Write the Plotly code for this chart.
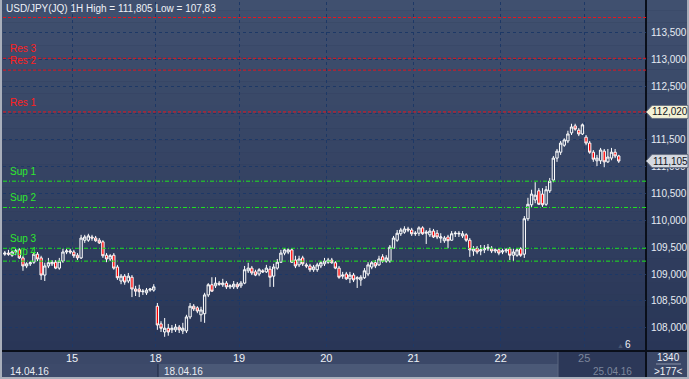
import plotly.graph_objects as go

# ---------------- data (USD/JPY 1H, 14.04.16 - 25.04.16) ----------------
open_ = [
    109.37, 109.39, 109.35, 109.41, 109.45, 109.30, 109.15, 109.19, 109.22, 109.37,
    109.30, 108.98, 109.15, 109.19, 109.22, 109.11, 109.24, 109.41, 109.43, 109.41,
    109.35, 109.30, 109.63, 109.63, 109.69, 109.67, 109.63, 109.60, 109.35, 109.28,
    109.35, 109.13, 108.87, 108.96, 108.87, 108.94, 108.72, 108.72, 108.67, 108.65,
    108.70, 108.70, 108.40, 108.07, 107.92, 107.99, 107.96, 107.96, 108.01, 107.94,
    107.94, 108.20, 108.40, 108.37, 108.24, 108.26, 108.61, 108.80, 108.78, 108.83,
    108.80, 108.83, 108.76, 108.76, 108.81, 108.78, 108.83, 109.06, 109.11, 109.04,
    109.00, 109.06, 109.04, 109.09, 108.96, 109.11, 109.22, 109.39, 109.41, 109.45,
    109.26, 109.17, 109.30, 109.17, 109.15, 109.08, 109.08, 109.15, 109.19, 109.22,
    109.26, 109.21, 109.11, 108.96, 109.00, 108.91, 108.98, 108.91, 108.89, 108.93,
    109.00, 109.13, 109.21, 109.17, 109.32, 109.24, 109.24, 109.48, 109.63, 109.75,
    109.78, 109.84, 109.82, 109.75, 109.76, 109.86, 109.76, 109.73, 109.80, 109.76,
    109.67, 109.62, 109.69, 109.63, 109.75, 109.76, 109.71, 109.73, 109.63, 109.43,
    109.48, 109.43, 109.45, 109.47, 109.48, 109.43, 109.45, 109.41, 109.43, 109.47,
    109.35, 109.35, 109.47, 109.37, 110.03, 110.29, 110.38, 110.55, 110.49, 110.30,
    110.55, 110.75, 111.16, 111.27, 111.40, 111.48, 111.63, 111.76, 111.68, 111.61,
    111.55, 111.44, 111.27, 111.11, 111.11, 111.29, 111.09, 111.16, 111.27, 111.20,
]
high = [
    109.43, 109.45, 109.43, 109.47, 109.48, 109.34, 109.22, 109.24, 109.41, 109.41,
    109.34, 109.21, 109.30, 109.26, 109.26, 109.30, 109.47, 109.47, 109.47, 109.45,
    109.39, 109.73, 109.73, 109.75, 109.73, 109.71, 109.67, 109.63, 109.39, 109.37,
    109.39, 109.17, 109.00, 109.00, 109.02, 108.98, 108.78, 108.80, 108.72, 108.74,
    108.74, 108.81, 108.46, 108.12, 108.18, 108.07, 108.05, 108.07, 108.05, 108.09,
    108.24, 108.46, 108.44, 108.40, 108.39, 108.65, 108.83, 108.94, 108.94, 108.87,
    108.91, 108.87, 108.81, 108.87, 108.85, 108.87, 109.15, 109.21, 109.15, 109.08,
    109.11, 109.09, 109.17, 109.15, 109.19, 109.28, 109.45, 109.48, 109.48, 109.48,
    109.34, 109.34, 109.34, 109.21, 109.19, 109.17, 109.21, 109.24, 109.30, 109.30,
    109.30, 109.24, 109.15, 109.04, 109.04, 109.04, 109.02, 108.96, 108.98, 109.11,
    109.22, 109.24, 109.26, 109.34, 109.37, 109.35, 109.54, 109.71, 109.82, 109.86,
    109.89, 109.88, 109.86, 109.80, 109.89, 109.89, 109.82, 109.86, 109.84, 109.82,
    109.76, 109.71, 109.73, 109.80, 109.80, 109.80, 109.80, 109.76, 109.67, 109.52,
    109.52, 109.54, 109.54, 109.56, 109.52, 109.48, 109.48, 109.47, 109.48, 109.50,
    109.47, 109.48, 109.50, 110.08, 110.42, 110.57, 110.71, 110.60, 110.60, 110.64,
    110.79, 111.20, 111.33, 111.48, 111.53, 111.67, 111.80, 111.80, 111.72, 111.805,
    111.59, 111.48, 111.31, 111.22, 111.35, 111.33, 111.33, 111.35, 111.33, 111.22,
]
low = [
    109.34, 109.34, 109.32, 109.35, 109.28, 109.06, 109.11, 109.15, 109.19, 109.24,
    108.89, 108.87, 109.11, 109.15, 109.09, 109.08, 109.21, 109.37, 109.37, 109.30,
    109.26, 109.28, 109.58, 109.60, 109.62, 109.60, 109.56, 109.30, 109.22, 109.24,
    109.08, 108.89, 108.81, 108.80, 108.83, 108.57, 108.59, 108.57, 108.61, 108.61,
    108.67, 108.67, 107.96, 107.92, 107.83, 107.85, 107.90, 107.92, 107.90, 107.88,
    107.90, 108.16, 108.31, 108.27, 108.11, 108.09, 108.57, 108.67, 108.74, 108.78,
    108.76, 108.72, 108.72, 108.72, 108.72, 108.74, 108.81, 109.02, 108.98, 108.96,
    108.96, 109.02, 109.02, 108.76, 108.76, 109.08, 109.21, 109.35, 109.37, 109.21,
    109.11, 109.13, 109.15, 109.11, 109.04, 109.04, 109.04, 109.11, 109.15, 109.19,
    109.19, 109.09, 108.91, 108.91, 108.89, 108.83, 108.85, 108.74, 108.78, 108.91,
    108.96, 109.09, 109.11, 109.15, 109.21, 109.21, 109.21, 109.47, 109.60, 109.71,
    109.75, 109.78, 109.71, 109.71, 109.71, 109.73, 109.56, 109.69, 109.67, 109.65,
    109.58, 109.58, 109.48, 109.62, 109.69, 109.69, 109.67, 109.60, 109.32, 109.34,
    109.37, 109.35, 109.39, 109.43, 109.39, 109.39, 109.35, 109.37, 109.39, 109.26,
    109.24, 109.32, 109.32, 109.30, 109.99, 110.25, 110.32, 110.29, 110.25, 110.27,
    110.51, 110.71, 111.09, 111.22, 111.37, 111.44, 111.59, 111.67, 111.57, 111.59,
    111.40, 111.24, 111.09, 111.01, 111.05, 110.99, 111.07, 111.12, 111.16, 111.07,
]
close = [
    109.39, 109.37, 109.41, 109.43, 109.30, 109.15, 109.19, 109.21, 109.37, 109.28,
    108.98, 109.15, 109.21, 109.22, 109.11, 109.24, 109.41, 109.43, 109.41, 109.34,
    109.30, 109.67, 109.69, 109.71, 109.67, 109.62, 109.58, 109.34, 109.28, 109.34,
    109.11, 108.93, 108.96, 108.85, 108.96, 108.72, 108.68, 108.67, 108.68, 108.70,
    108.72, 108.76, 108.05, 107.99, 107.99, 107.92, 107.99, 108.01, 107.96, 107.99,
    108.20, 108.40, 108.35, 108.31, 108.33, 108.61, 108.80, 108.68, 108.83, 108.81,
    108.83, 108.76, 108.78, 108.81, 108.76, 108.83, 109.08, 109.11, 109.02, 108.98,
    109.08, 109.04, 109.11, 108.94, 109.13, 109.22, 109.39, 109.45, 109.45, 109.22,
    109.15, 109.28, 109.19, 109.15, 109.08, 109.13, 109.17, 109.21, 109.24, 109.26,
    109.21, 109.11, 108.94, 108.98, 108.91, 108.98, 108.89, 108.93, 108.94, 109.06,
    109.17, 109.21, 109.15, 109.28, 109.24, 109.30, 109.50, 109.67, 109.76, 109.82,
    109.84, 109.82, 109.75, 109.76, 109.86, 109.75, 109.78, 109.80, 109.69, 109.69,
    109.69, 109.67, 109.62, 109.75, 109.76, 109.75, 109.75, 109.63, 109.45, 109.47,
    109.41, 109.45, 109.48, 109.50, 109.43, 109.45, 109.39, 109.43, 109.45, 109.35,
    109.41, 109.45, 109.35, 110.03, 110.30, 110.49, 110.47, 110.30, 110.29, 110.57,
    110.73, 111.16, 111.29, 111.44, 111.50, 111.61, 111.74, 111.70, 111.61, 111.78,
    111.44, 111.27, 111.14, 111.16, 111.31, 111.09, 111.18, 111.27, 111.20, 111.105,
]

day_labels = ["15", "18", "19", "20", "21", "22", "25"]
day_start = [19, 42, 65, 89, 113, 137, 160]          # first bar index of each day
date_labels = ["14.04.16", "18.04.16", "25.04.16"]
date_label_bar = [0, 42, 160]

res_names = ["Res 1", "Res 2", "Res 3"]
res_levels = [112.02, 112.80, 113.02]
extra_res_level = 113.78
sup_names = ["Sup 1", "Sup 2", "Sup 3", "Sup 4"]
sup_levels = [110.73, 110.24, 109.48, 109.24]

high_value = 111.805
low_value = 107.83
last_price = 111.105
y_ticks = [108.0, 108.5, 109.0, 109.5, 110.0, 110.5, 111.0, 111.5, 112.0, 112.5, 113.0, 113.5]
visible_bars = 177
total_bars = 1340

# ---------------- figure ----------------
W, H = 689, 379
ML, MR, MT, MB = 3, 43, 2, 29
PW = W - ML - MR
PH = H - MT - MB
Y0, Y1 = 107.584, 114.069
FS = 10


def px2paper_x(px):
    return (px - ML) / PW


def px2paper_y(py):
    return (H - MB - py) / PH


def fmt(v):
    return f"{v:.3f}".replace(".", ",")


idx = list(range(len(close)))

fig = go.Figure()
fig.add_trace(go.Candlestick(
    x=idx, open=open_, high=high, low=low, close=close,
    increasing=dict(line=dict(color="#ffffff", width=1), fillcolor="rgba(0,0,0,0)"),
    decreasing=dict(line=dict(color="#ffffff", width=1), fillcolor="#ff0000"),
    whiskerwidth=0, showlegend=False, hoverinfo="skip",
))

shapes = []
# gradient background behind plot + right axis
n_bands = 30
top_c = (64, 80, 111)
bot_c = (41, 54, 87)
for k in range(n_bands):
    t = k / (n_bands - 1)
    c = tuple(int(round(top_c[j] + (bot_c[j] - top_c[j]) * t)) for j in range(3))
    shapes.append(dict(type="rect", xref="paper", yref="paper",
                       x0=px2paper_x(0), x1=px2paper_x(W),
                       y0=1 + 0.01 - (k + 1) / n_bands * 1.02, y1=1 + 0.01 - k / n_bands * 1.02,
                       fillcolor="rgb(%d,%d,%d)" % c, line=dict(width=0), layer="below"))


def rect_px(x0, y0, x1, y1, color, layer="below"):
    return dict(type="rect", xref="paper", yref="paper",
                x0=px2paper_x(x0), x1=px2paper_x(x1),
                y0=px2paper_y(y1), y1=px2paper_y(y0),
                fillcolor=color, line=dict(width=0), layer=layer)

# bottom panel blocks
shapes.append(rect_px(0, 351, 689, 379, "#3b4868"))
shapes.append(rect_px(3, 364, 158, 378, "#3d4a6a"))
shapes.append(rect_px(158, 364, 558, 378, "#4b5977"))
shapes.append(rect_px(558, 351, 646, 378, "#2c3858"))
shapes.append(rect_px(647, 351, 689, 379, "#3a4767"))
# separators
shapes.append(rect_px(0, 350, 689, 352, "#0a0f1a"))
shapes.append(rect_px(645, 0, 647, 379, "#0a0f1a"))
shapes.append(rect_px(157.5, 364, 158.5, 378, "#1c2740"))
shapes.append(rect_px(557.5, 352, 558.5, 378, "#5a6680"))
shapes.append(rect_px(656, 363.5, 681, 364.5, "#8a94aa"))
# outer frame
shapes.append(rect_px(0, 0, 2, 379, "#a9afbb", layer="above"))
shapes.append(rect_px(0, 377, 689, 379, "#a9afbb", layer="above"))
shapes.append(rect_px(687, 0, 689, 379, "#a9afbb", layer="above"))

# resistance / support lines
for lv in res_levels + [extra_res_level]:
    shapes.append(dict(type="line", xref="paper", yref="y", x0=0, x1=1, y0=lv, y1=lv,
                       line=dict(color="#e8141c", width=1, dash="3px,2px"), layer="above"))
for lv in sup_levels:
    shapes.append(dict(type="line", xref="paper", yref="y", x0=0, x1=1, y0=lv, y1=lv,
                       line=dict(color="#1ee61e", width=1, dash="4px,2px,1px,2px"), layer="above"))

# price tags on the right axis
tag_h = 6.5 * (Y1 - Y0) / PH
xa, xb, xc = 1.0, px2paper_x(652), px2paper_x(688)


def tag(level, fill):
    return dict(type="path", xref="paper", yref="y",
                path=f"M {xa},{level} L {xb},{level + tag_h} L {xc},{level + tag_h} "
                     f"L {xc},{level - tag_h} L {xb},{level - tag_h} Z",
                fillcolor=fill, line=dict(color="#6b7384", width=1), layer="above")

shapes.append(tag(res_levels[0], "#f3f1d6"))
shapes.append(tag(last_price, "#d5d9e1"))

annotations = []
annotations.append(dict(xref="paper", yref="paper", x=px2paper_x(4), y=px2paper_y(9),
                        xanchor="left", yanchor="middle", showarrow=False,
                        text=f"USD/JPY(JQ) 1H High = {fmt(high_value)} Low = {str(low_value).replace('.', ',')}",
                        font=dict(size=FS, color="#eef1f6")))
for name, lv in zip(res_names, res_levels):
    annotations.append(dict(xref="paper", yref="y", x=px2paper_x(8), y=lv, yshift=2,
                            xanchor="left", yanchor="bottom", showarrow=False, text=name,
                            font=dict(size=FS, color="#ff2020")))
for name, lv in zip(sup_names, sup_levels):
    annotations.append(dict(xref="paper", yref="y", x=px2paper_x(8), y=lv, yshift=2,
                            xanchor="left", yanchor="bottom", showarrow=False, text=name,
                            font=dict(size=FS, color="#2ee82e")))
for lv in [res_levels[0], last_price]:
    annotations.append(dict(xref="paper", yref="y", x=(xb + xc) / 2, y=lv,
                            xanchor="center", yanchor="middle", showarrow=False, text=fmt(lv),
                            font=dict(size=FS, color="#11141c")))
# date row
date_colors = ["#e8ecf2", "#e8ecf2", "#7c869c"]
for lab, b, col in zip(date_labels, date_label_bar, date_colors):
    xpos = b if b > 0 else -0.5
    annotations.append(dict(xref="x", yref="paper", x=xpos, y=px2paper_y(371), xshift=5,
                            xanchor="left", yanchor="middle", showarrow=False, text=lab,
                            font=dict(size=FS, color=col)))
# right-bottom counters
annotations.append(dict(xref="paper", yref="paper", x=px2paper_x(668), y=px2paper_y(357),
                        xanchor="center", yanchor="middle", showarrow=False, text=str(total_bars),
                        font=dict(size=FS, color="#eef1f6")))
annotations.append(dict(xref="paper", yref="paper", x=px2paper_x(668), y=px2paper_y(371),
                        xanchor="center", yanchor="middle", showarrow=False, text=f"&gt;{visible_bars}&lt;",
                        font=dict(size=FS, color="#eef1f6")))
annotations.append(dict(xref="paper", yref="paper", x=px2paper_x(628), y=px2paper_y(344),
                        xanchor="center", yanchor="middle", showarrow=False, text="6",
                        font=dict(size=FS, color="#eef1f6")))
annotations.append(dict(xref="paper", yref="paper", x=px2paper_x(620), y=px2paper_y(345),
                        xanchor="center", yanchor="middle", showarrow=False, text="▲",
                        font=dict(size=7, color="#4a5670")))

tick_text = [t if i < len(day_labels) - 1 else f'<span style="color:#7c869c">{t}</span>'
             for i, t in enumerate(day_labels)]

fig.update_layout(
    width=W, height=H,
    margin=dict(l=ML, r=MR, t=MT, b=MB, pad=0),
    paper_bgcolor="#2f3b5a", plot_bgcolor="rgba(0,0,0,0)",
    font=dict(family="Liberation Sans, Arial, sans-serif", size=FS, color="#eef1f6"),
    separators=", ",
    showlegend=False,
    boxgap=0.08,
    shapes=shapes, annotations=annotations,
    xaxis=dict(range=[-0.5, visible_bars - 0.5], rangeslider=dict(visible=False),
               tickmode="array", tickvals=[d - 0.5 for d in day_start], ticktext=tick_text,
               showgrid=True, gridcolor="#1d3866", gridwidth=1, griddash="dot",
               zeroline=False, showline=False, ticks="", tickfont=dict(size=FS + 1, color="#eef1f6"),
               fixedrange=True),
    yaxis=dict(range=[Y0, Y1], side="right", tickmode="array", tickvals=y_ticks,
               tickformat=".3f", showgrid=True, gridcolor="#1d3866", gridwidth=1, griddash="dot",
               zeroline=False, showline=False, ticks="", ticklabelstandoff=4,
               tickfont=dict(size=FS, color="#e6ebf3"), fixedrange=True),
)

fig.write_html("out.html", config={"displayModeBar": False},
               post_script="document.body.style.margin='0';document.body.style.overflow='hidden';")
